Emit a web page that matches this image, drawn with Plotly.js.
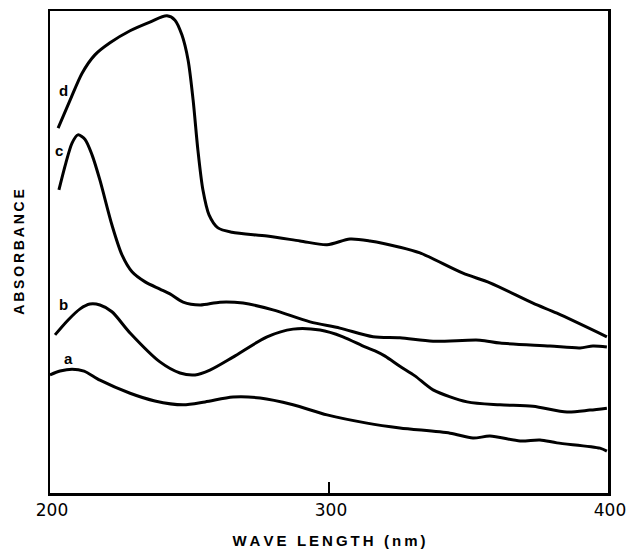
<!DOCTYPE html>
<html>
<head>
<meta charset="utf-8">
<script src="https://cdn.plot.ly/plotly-3.0.1.min.js"></script>
<style>html,body{margin:0;padding:0;background:#fff;}</style>
</head>
<body>
<div id="chart" style="width:628px;height:554px;"></div>
<script>
// Wavelength (nm) and absorbance (arbitrary units)
const dWave = [202.9,207.2,211.5,216.1,221.5,228.7,235.8,241.9,244.8,247.3,249.5,251.3,253.0,254.8,257.0,260.2,265.2,277.8,289.6,299.3,307.5,314.7,325.4,332.6,348.0,357.7,373.1,381.7,399.6];
const dAbs  = [0.757,0.815,0.871,0.909,0.934,0.959,0.977,0.990,0.981,0.950,0.898,0.815,0.712,0.629,0.577,0.550,0.541,0.533,0.523,0.515,0.527,0.523,0.510,0.498,0.456,0.436,0.394,0.373,0.324];

const cWave = [203.2,205.7,207.9,210.0,212.5,215.1,217.9,222.2,225.8,229.4,234.1,239.4,243.0,247.7,253.8,260.9,269.2,279.9,293.2,303.9,315.8,325.4,337.3,354.1,361.3,379.2,390.0,394.6,399.6];
const cAbs  = [0.629,0.685,0.726,0.743,0.734,0.701,0.649,0.556,0.494,0.459,0.438,0.423,0.413,0.396,0.390,0.396,0.394,0.380,0.355,0.342,0.324,0.322,0.315,0.317,0.311,0.305,0.301,0.305,0.303];

const bWave = [201.8,206.5,210.8,214.3,217.9,222.2,228.7,239.4,246.6,252.0,257.3,265.6,277.8,287.1,296.8,305.0,312.9,316.5,320.1,325.4,330.8,337.3,349.5,361.3,373.1,385.3,393.5,399.6];
const bAbs  = [0.328,0.359,0.382,0.392,0.390,0.376,0.332,0.272,0.249,0.245,0.255,0.282,0.324,0.340,0.338,0.324,0.303,0.295,0.284,0.263,0.243,0.214,0.189,0.183,0.180,0.168,0.172,0.176];

const aWave = [200.0,203.6,207.9,212.2,217.9,228.7,237.6,247.7,255.6,265.6,275.3,287.1,299.3,313.6,325.4,343.4,351.6,357.7,368.5,375.6,381.7,397.1,399.6];
const aAbs  = [0.245,0.253,0.257,0.253,0.234,0.207,0.191,0.183,0.189,0.199,0.197,0.183,0.162,0.145,0.135,0.124,0.114,0.118,0.108,0.110,0.104,0.093,0.087];

const curveNames = ['a','b','c','d'];
const labelWave = [206.8,205.0,203.2,204.7];
const labelAbs  = [0.280,0.392,0.710,0.836];

const tickVals = [200,300,400];
const tickText = ['200','300','400'];

const lineStyle = {color:'#000', width:3, shape:'spline', smoothing:0.8};
const mk = (x,y,n) => ({x:x, y:y, name:n, type:'scatter', mode:'lines', line:lineStyle, hoverinfo:'skip'});

const data = [mk(aWave,aAbs,'a'), mk(bWave,bAbs,'b'), mk(cWave,cAbs,'c'), mk(dWave,dAbs,'d')];

const annotations = curveNames.map((n,i)=>({
  x: labelWave[i], y: labelAbs[i], xref:'x', yref:'y', text: n, showarrow:false,
  font:{family:'Liberation Sans, Arial, sans-serif', size:15, color:'#000', weight:'bold'}
}));

const T = '\u2009';
const W = '\u2002\u2009';
const xTitle = ['W','A','V','E'].join(T) + W + ['L','E','N','G','T','H'].join(T) + W + ['(','n','m',')'].join(T);
const yTitle = 'ABSORBANCE'.split('').join(T);

const layout = {
  width:628, height:554,
  margin:{l:50, r:20, t:11, b:61},
  paper_bgcolor:'#fff', plot_bgcolor:'#fff',
  showlegend:false,
  xaxis:{
    range:[200,400], tickvals:tickVals, ticktext:tickText,
    ticks:'inside', ticklen:11, tickwidth:2, tickcolor:'#000',
    showline:true, linecolor:'#000', linewidth:2.5, mirror:true,
    showgrid:false, zeroline:false,
    tickfont:{family:'DejaVu Sans, sans-serif', size:17, color:'#000'},
    ticklabelshift:2, ticklabeloverflow:'allow',
    title:{text:xTitle, standoff:17,
      font:{family:'Liberation Sans, Arial, sans-serif', size:15, color:'#000', weight:'bold'}}
  },
  yaxis:{
    range:[0,1], showticklabels:false, ticks:'',
    showline:true, linecolor:'#000', linewidth:2.5, mirror:true,
    showgrid:false, zeroline:false,
    title:{text:yTitle, standoff:20,
      font:{family:'Liberation Sans, Arial, sans-serif', size:14, color:'#000', weight:'bold'}}
  },
  annotations: annotations
};

Plotly.newPlot('chart', data, layout, {staticPlot:true, displayModeBar:false});
</script>
</body>
</html>
